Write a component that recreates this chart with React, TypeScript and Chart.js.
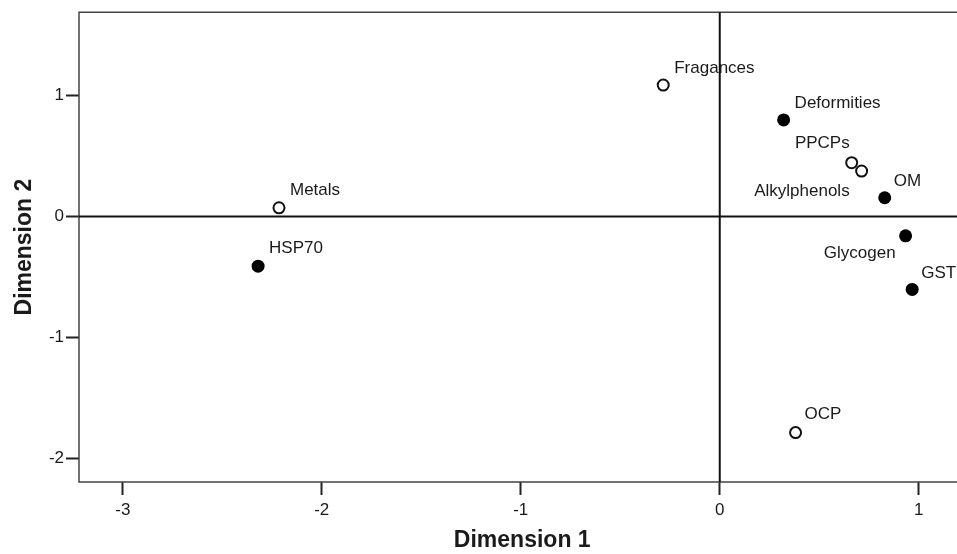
import React, { useEffect, useRef } from 'react';
import { Chart, registerables } from 'chart.js';

Chart.register(...registerables);

// ---- data ----
const openNames = ['Fragances', 'PPCPs', 'Alkylphenols', 'Metals', 'OCP'];
const openX = [-0.284, 0.663, 0.713, -2.215, 0.381];
const openY = [1.089, 0.446, 0.377, 0.073, -1.788];

const filledNames = ['Deformities', 'OM', 'Glycogen', 'GST', 'HSP70'];
const filledX = [0.321, 0.829, 0.934, 0.967, -2.32];
const filledY = [0.8, 0.156, -0.159, -0.603, -0.41];

const xTicks = [-3, -2, -1, 0, 1];
const yTicks = [-2, -1, 0, 1];
const xTitle = 'Dimension 1';
const yTitle = 'Dimension 2';

// ---- label placement (pixel offsets from the point, style only) ----
const labelPlacement: Record<string, { dx: number; dy: number; align: CanvasTextAlign }> = {
  Fragances: { dx: 11, dy: -17, align: 'left' },
  Deformities: { dx: 11, dy: -17, align: 'left' },
  PPCPs: { dx: -2, dy: -19, align: 'right' },
  Alkylphenols: { dx: -12, dy: 20, align: 'right' },
  OM: { dx: 9, dy: -16, align: 'left' },
  Glycogen: { dx: -10, dy: 18, align: 'right' },
  GST: { dx: 9, dy: -16, align: 'left' },
  Metals: { dx: 11, dy: -17, align: 'left' },
  HSP70: { dx: 11, dy: -18, align: 'left' },
  OCP: { dx: 9, dy: -18, align: 'left' },
};

const FONT = '"Liberation Sans", Arial, Helvetica, sans-serif';
const TEXT = '#1a1a1a';
const CANVAS_W = 973;
const CANVAS_H = 554;

const framePlugin = {
  id: 'frame',
  beforeDatasetsDraw(chart: any) {
    const { ctx, chartArea } = chart;
    const { left, right, top, bottom } = chartArea;
    const xs = chart.scales.x;
    const ys = chart.scales.y;
    ctx.save();
    ctx.strokeStyle = '#444';
    ctx.lineWidth = 1.5;
    ctx.beginPath();
    ctx.moveTo(left, top);
    ctx.lineTo(right, top);
    ctx.lineTo(right, bottom);
    ctx.lineTo(left, bottom);
    ctx.closePath();
    ctx.stroke();
    ctx.strokeStyle = '#111';
    ctx.lineWidth = 2;
    const x0 = xs.getPixelForValue(0);
    const y0 = ys.getPixelForValue(0);
    ctx.beginPath();
    ctx.moveTo(x0, top);
    ctx.lineTo(x0, bottom);
    ctx.moveTo(left, y0);
    ctx.lineTo(right, y0);
    ctx.stroke();
    ctx.restore();
  },
};

const labelPlugin = {
  id: 'pointLabels',
  afterDatasetsDraw(chart: any) {
    const { ctx } = chart;
    ctx.save();
    ctx.font = `17px ${FONT}`;
    ctx.fillStyle = TEXT;
    ctx.textBaseline = 'middle';
    chart.data.datasets.forEach((ds: any, di: number) => {
      const meta = chart.getDatasetMeta(di);
      meta.data.forEach((el: any, i: number) => {
        const name = ds.names[i];
        const p = labelPlacement[name] || { dx: 10, dy: -16, align: 'left' };
        ctx.textAlign = p.align;
        ctx.fillText(name, el.x + p.dx, el.y + p.dy);
      });
    });
    ctx.restore();
  },
};

export default function App() {
  const canvasRef = useRef<HTMLCanvasElement | null>(null);

  useEffect(() => {
    if (!canvasRef.current) return;
    const chart = new Chart(canvasRef.current, {
      type: 'scatter',
      data: {
        datasets: [
          {
            label: 'open',
            names: openNames,
            data: openX.map((x, i) => ({ x, y: openY[i] })),
            pointStyle: 'circle',
            pointRadius: 5.5,
            pointBorderWidth: 2,
            pointBackgroundColor: '#ffffff',
            pointBorderColor: '#111',
          } as any,
          {
            label: 'filled',
            names: filledNames,
            data: filledX.map((x, i) => ({ x, y: filledY[i] })),
            pointStyle: 'circle',
            pointRadius: 6.5,
            pointBorderWidth: 0,
            pointBackgroundColor: '#000',
            pointBorderColor: '#000',
          } as any,
        ],
      },
      options: {
        animation: false,
        responsive: false,
        maintainAspectRatio: false,
        devicePixelRatio: 1,
        layout: { padding: { top: 12, right: 0, left: 0, bottom: 0 } },
        plugins: { legend: { display: false }, tooltip: { enabled: false } },
        scales: {
          x: {
            type: 'linear',
            min: -3.22,
            max: 1.235,
            afterFit: (s: any) => {
              s.height = 72;
            },
            afterBuildTicks: (s: any) => {
              s.ticks = xTicks.map((v) => ({ value: v }));
            },
            border: { display: false },
            grid: {
              drawOnChartArea: false,
              drawTicks: true,
              tickLength: 13,
              tickWidth: 2,
              tickColor: '#222',
            },
            ticks: {
              padding: 5,
              color: TEXT,
              font: { family: FONT, size: 17 },
              maxRotation: 0,
              callback: (v: any) => String(v),
            },
            title: {
              display: true,
              text: xTitle,
              color: TEXT,
              font: { family: FONT, size: 23, weight: 'bold' },
              padding: { top: 1, bottom: 0 },
            },
          },
          y: {
            type: 'linear',
            min: -2.197,
            max: 1.692,
            afterFit: (s: any) => {
              s.width = 79;
            },
            afterBuildTicks: (s: any) => {
              s.ticks = yTicks.map((v) => ({ value: v }));
            },
            border: { display: false },
            grid: {
              drawOnChartArea: false,
              drawTicks: true,
              tickLength: 13,
              tickWidth: 2,
              tickColor: '#222',
            },
            ticks: {
              padding: 2,
              color: TEXT,
              font: { family: FONT, size: 17 },
              callback: (v: any) => String(v),
            },
            title: {
              display: true,
              text: yTitle,
              color: TEXT,
              font: { family: FONT, size: 23, weight: 'bold' },
              padding: { top: 11, bottom: 0 },
            },
          },
        },
      },
      plugins: [framePlugin, labelPlugin],
    });
    return () => chart.destroy();
  }, []);

  return (
    <div
      style={{
        position: 'fixed',
        left: 0,
        top: 0,
        width: 957,
        height: 554,
        overflow: 'hidden',
        background: '#fff',
      }}
    >
      <canvas
        ref={canvasRef}
        width={CANVAS_W}
        height={CANVAS_H}
        style={{ display: 'block', width: CANVAS_W, height: CANVAS_H }}
      />
    </div>
  );
}
